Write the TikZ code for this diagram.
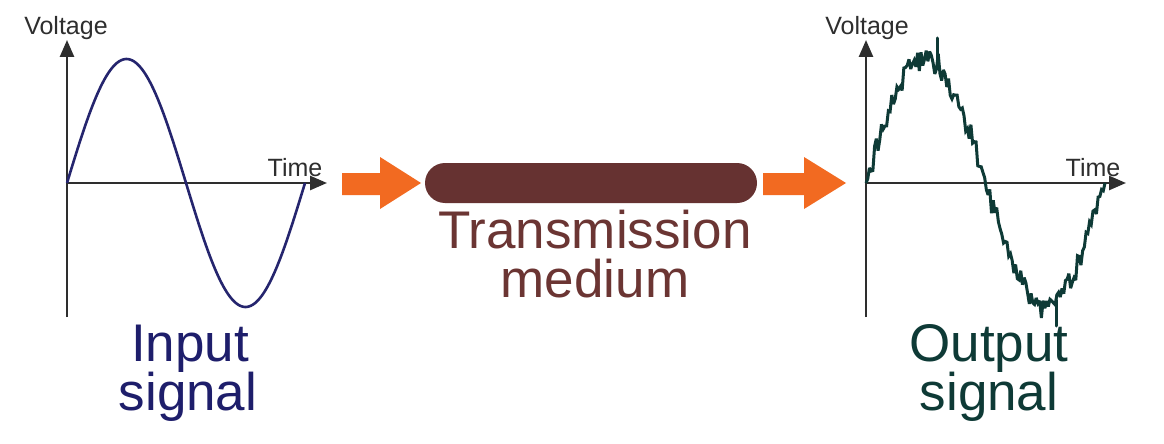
\documentclass[tikz,border=0pt]{standalone}
\usepackage{fontspec}
\setmainfont{Liberation Sans}
\usetikzlibrary{arrows.meta}
\definecolor{axisgray}{HTML}{2E2E2E}
\definecolor{insig}{HTML}{25256E}
\definecolor{intext}{HTML}{1E1E6B}
\definecolor{outsig}{HTML}{0E3A36}
\definecolor{barbrown}{HTML}{663231}
\definecolor{bartext}{HTML}{6B3533}
\definecolor{arrorange}{HTML}{F26A21}
\tikzset{
  axisline/.style={draw=axisgray, line width=2.6pt, -{Triangle[length=17pt,width=14pt]}},
  smalllabel/.style={text=axisgray, inner sep=0pt, anchor=base, font=\fontsize{25}{30}\selectfont},
  biglabel/.style={inner sep=0pt, anchor=base, font=\fontsize{53}{60}\selectfont},
  blockarrow/.style={fill=arrorange, draw=none},
  noisyline/.style={draw=outsig, line width=3pt, line join=miter, miter limit=3},
}
\begin{document}
\begin{tikzpicture}[x=1pt,y=-1pt]
\useasboundingbox[fill=white] (0,0) rectangle (1164,444);

% ---------- left graph ----------
\coordinate (lo) at (67,183);
\coordinate (lytop) at (67,40);
\coordinate (lybot) at (67,317);
\coordinate (lxend) at (327,183);
\draw[axisline] (lybot) -- (lytop);
\draw[axisline] (lo) -- (lxend);
\draw[insig, line width=2.6pt, line join=round]
  plot[domain=0:238, samples=150, smooth] ({67+\x},{183-124*sin(\x/238*360)});
\node[smalllabel] (lvolt) at (66,35) {Voltage};
\node[smalllabel] (ltime) at (295,176) {Time};
\node[biglabel, text=intext] (in1) at (190,361) {Input};
\node[biglabel, text=intext] (in2) at (188,410) {signal};

% ---------- middle ----------
\fill[blockarrow] (342,173) -- (380,173) -- (380,157) -- (421,183) -- (380,209) -- (380,195) -- (342,195) -- cycle;
\fill[barbrown, rounded corners=20pt] (425,163) rectangle (757,203);
\node[biglabel, text=bartext] (tm1) at (595,248) {Transmission};
\node[biglabel, text=bartext] (tm2) at (595,297) {medium};
\fill[blockarrow] (763,173) -- (804,173) -- (804,157) -- (846,183) -- (804,209) -- (804,195) -- (763,195) -- cycle;

% ---------- right graph ----------
\coordinate (ro) at (866,183);
\coordinate (rytop) at (866,40);
\coordinate (rybot) at (866,317);
\coordinate (rxend) at (1126,183);
\draw[axisline] (rybot) -- (rytop);
\draw[axisline] (ro) -- (rxend);
\pgfmathsetseed{2718}
\draw[noisyline]
  plot[domain=0:239, samples=140] ({866+\x},{183-124*sin(\x/239*360)+min(1,\x/8)*min(1,(239-\x)/8)*12*rand});
\draw[noisyline, line cap=round] (937,62) -- (937,38);
\draw[noisyline, line cap=round] (1056,300) -- (1056,326);
\node[smalllabel] (rvolt) at (867,35) {Voltage};
\node[smalllabel] (rtime) at (1093,176) {Time};
\node[biglabel, text=outsig] (out1) at (989,361) {Output};
\node[biglabel, text=outsig] (out2) at (989,410) {signal};
\end{tikzpicture}
\end{document}
